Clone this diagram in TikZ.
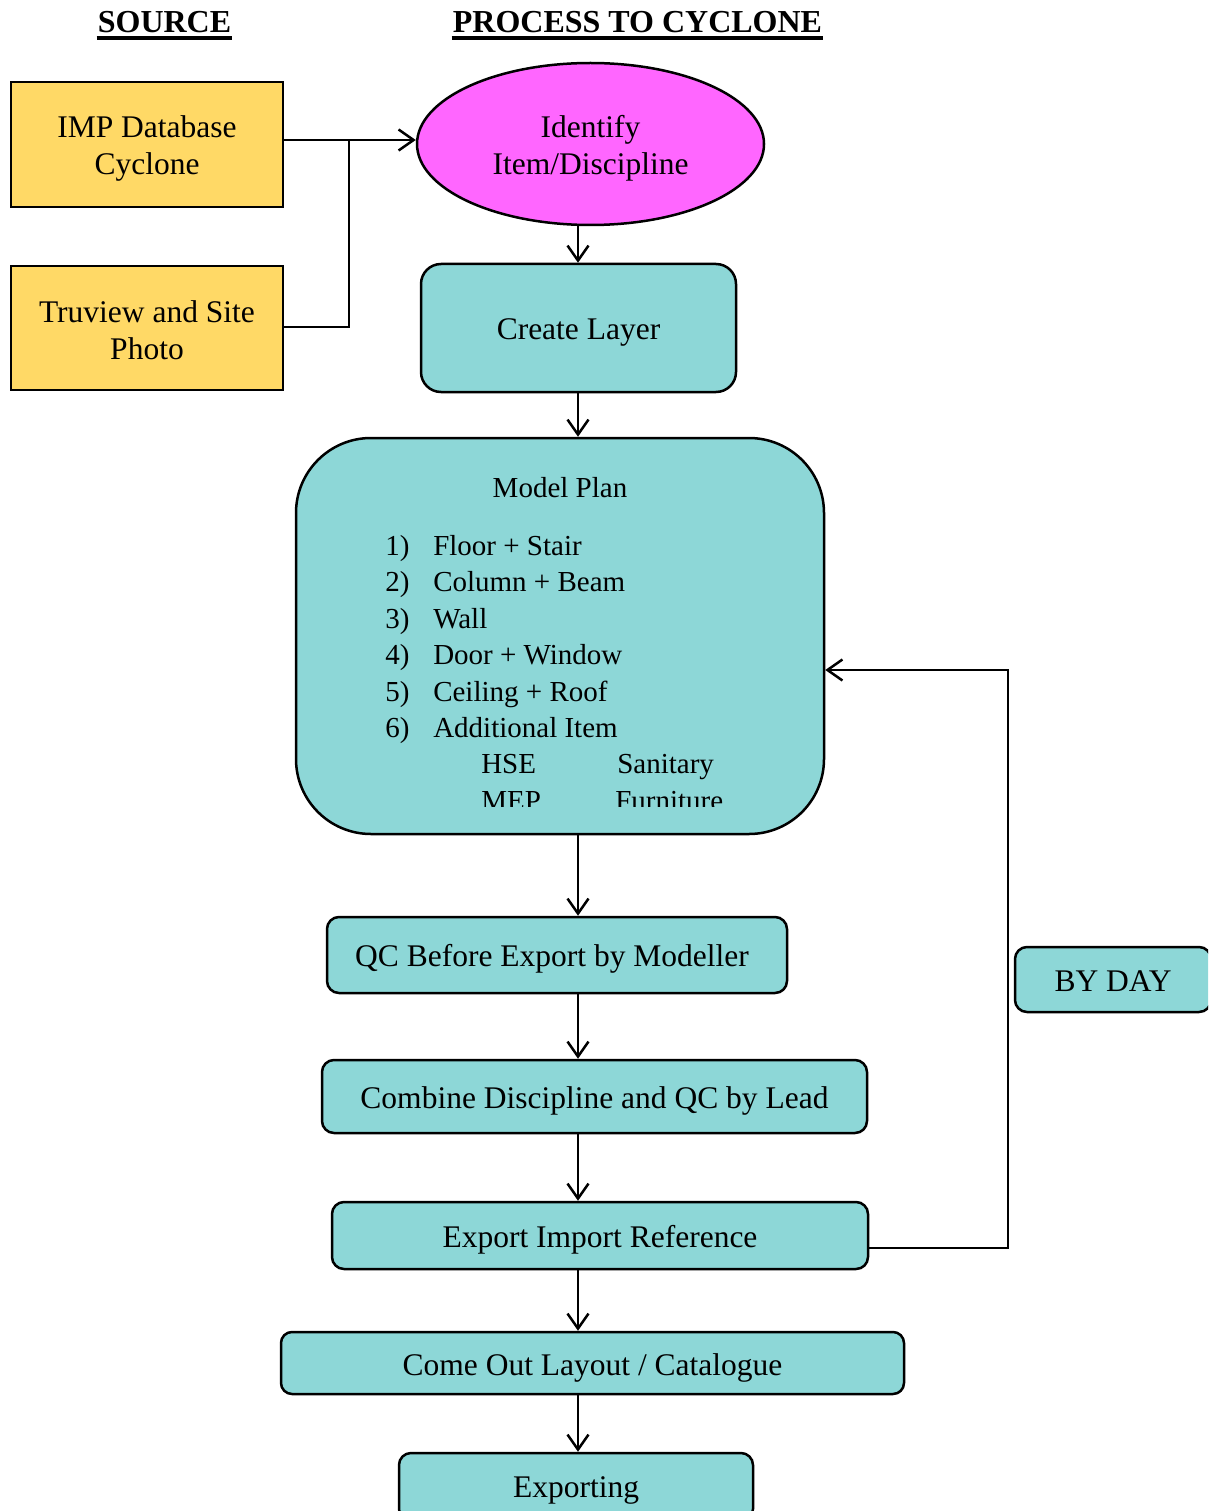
\documentclass[tikz,border=0pt]{standalone}
\usepackage{fontspec}
\setmainfont{Liberation Serif}
\usetikzlibrary{arrows.meta,shapes.geometric}
\definecolor{srcyellow}{HTML}{FFD966}
\definecolor{teal1}{HTML}{8DD7D7}
\definecolor{pinkm}{HTML}{FF66FF}
\begin{document}
\begin{tikzpicture}[x=1pt,y=-1pt,line width=2.5pt,
  arr/.style={-{Straight Barb[length=15pt,width=21pt]}},
  box/.style={draw=black,fill=teal1,inner sep=0pt},
  srcbox/.style={draw=black,fill=srcyellow,inner sep=0pt},
  lbl/.style={inner sep=0pt,align=center,font=\fontsize{31.5}{37.5}\selectfont},
  hdr/.style={inner sep=0pt,font=\fontsize{32}{38}\selectfont\bfseries},
  mp/.style={inner sep=0pt,anchor=base west,font=\fontsize{29}{35}\selectfont}]
\useasboundingbox (0,0) rectangle (1208,1511);
\clip (0,0) rectangle (1208,1511);
% headers
\node[hdr] (h1) at (164.5,22) {SOURCE};
\node[hdr] (h2) at (637.5,22) {PROCESS TO CYCLONE};
\draw[line width=3.5pt] ([yshift=-5.5pt]h1.base west) -- ([yshift=-5.5pt]h1.base east);
\draw[line width=3.5pt] ([yshift=-5.5pt]h2.base west) -- ([yshift=-5.5pt]h2.base east);
% source boxes
\node[srcbox,minimum width=272pt,minimum height=125pt] (imp) at (147,144.5) {};
\node[lbl] (impT) at ([yshift=-4pt]imp.center) {IMP Database\\Cyclone};
\node[srcbox,minimum width=272pt,minimum height=124pt] (tru) at (147,328) {};
\node[lbl] (truT) at ([yshift=-2pt]tru.center) {Truview and Site\\Photo};
% ellipse
\node[ellipse,draw=black,fill=pinkm,inner sep=0pt,minimum width=347pt,minimum height=162pt] (ell) at (590.5,144) {};
\node[lbl] (ellT) at ([yshift=-4.5pt]ell.center) {Identify\\Item/Discipline};
% process boxes
\node[box,rounded corners=20pt,minimum width=315pt,minimum height=128pt] (create) at (578.5,328) {};
\node[lbl] (createT) at ([yshift=-4pt]create.center) {Create Layer};
\node[box,rounded corners=75pt,minimum width=528pt,minimum height=396pt] (model) at (560,636) {};
\node[box,rounded corners=12pt,minimum width=460pt,minimum height=76pt] (qc) at (557,955) {};
\node[lbl] (qcT) at ([yshift=-4pt,xshift=-5pt]qc.center) {QC Before Export by Modeller};
\node[box,rounded corners=12pt,minimum width=545pt,minimum height=73pt] (comb) at (594.5,1096.5) {};
\node[lbl] (combT) at ([yshift=-4pt]comb.center) {Combine Discipline and QC by Lead};
\node[box,rounded corners=12pt,minimum width=536pt,minimum height=67pt] (exp) at (600,1235.5) {};
\node[lbl] (expT) at ([yshift=-4pt]exp.center) {Export Import Reference};
\node[box,rounded corners=11pt,minimum width=623pt,minimum height=62pt] (come) at (592.5,1363) {};
\node[lbl] (comeT) at ([yshift=-4.5pt]come.center) {Come Out Layout / Catalogue};
\node[box,rounded corners=12pt,minimum width=354pt,minimum height=68pt] (expg) at (576,1487) {};
\node[lbl] (expgT) at ([yshift=-3pt]expg.center) {Exporting};
\node[box,rounded corners=12pt,minimum width=196pt,minimum height=65pt] (byday) at (1113,979.5) {};
\node[lbl] (bydayT) at ([yshift=-2pt]byday.center) {BY DAY};
% model plan contents
\begin{scope}
\clip (300,440) rectangle (820,806);
\node[inner sep=0pt,anchor=base,font=\fontsize{29}{35}\selectfont] (mptitle) at (560,497) {Model Plan};
\node[mp] (n1) at (384,555) {1)}; \node[mp] (t1) at (432,555) {Floor + Stair};
\node[mp] (n2) at (384,591) {2)}; \node[mp] (t2) at (432,591) {Column + Beam};
\node[mp] (n3) at (384,628) {3)}; \node[mp] (t3) at (432,628) {Wall};
\node[mp] (n4) at (384,664) {4)}; \node[mp] (t4) at (432,664) {Door + Window};
\node[mp] (n5) at (384,701) {5)}; \node[mp] (t5) at (432,701) {Ceiling + Roof};
\node[mp] (n6) at (384,737) {6)}; \node[mp] (t6) at (432,737) {Additional Item};
\node[mp] (a1) at (480,773) {HSE}; \node[mp] (a2) at (616,773) {Sanitary};
\node[mp] (a3) at (480,810) {MEP}; \node[mp] (a4) at (614,810) {Furniture};
\end{scope}
% connectors
\coordinate (spine) at (578,0);
\coordinate (join) at (349,140);
\coordinate (fb) at (1008,670);
\draw[arr] (imp.east |- join) -- (join) -- (ell.west |- join);
\draw (tru.east |- 0,327) -| (join);
\draw[arr] (spine |- ell.south) -- (spine |- create.north);
\draw[arr] (spine |- create.south) -- (spine |- model.north);
\draw[arr] (spine |- model.south) -- (spine |- qc.north);
\draw[arr] (spine |- qc.south) -- (spine |- comb.north);
\draw[arr] (spine |- comb.south) -- (spine |- exp.north);
\draw[arr] (spine |- exp.south) -- (spine |- come.north);
\draw[arr] (spine |- come.south) -- (spine |- expg.north);
\draw[arr] (exp.east |- 0,1248) -| (fb) -- (fb -| model.east);
\end{tikzpicture}
\end{document}
